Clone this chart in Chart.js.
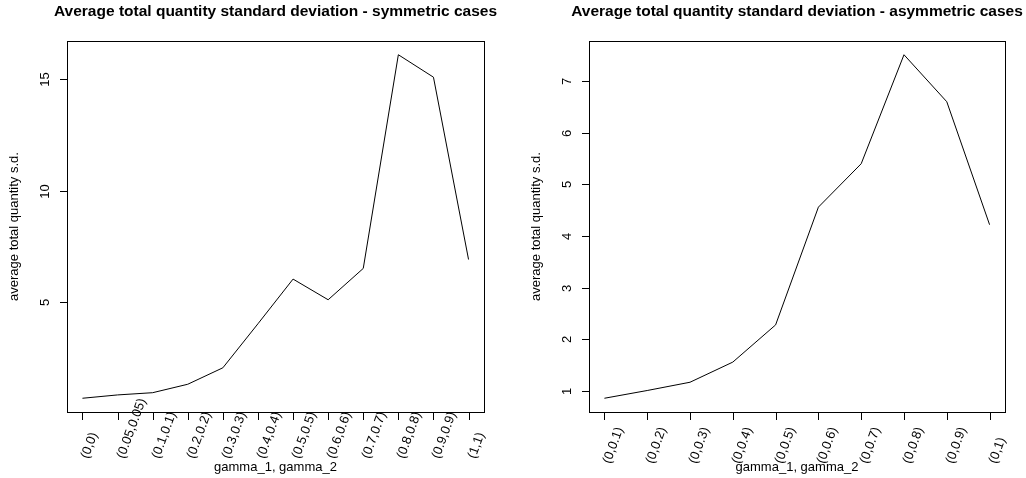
<!DOCTYPE html>
<html>
<head>
<meta charset="utf-8">
<script src="https://cdn.jsdelivr.net/npm/chart.js@4/dist/chart.umd.min.js"></script>
<style>
  html, body { margin: 0; padding: 0; background: #ffffff; }
  #wrap { position: relative; width: 1026px; height: 478px; overflow: hidden; }
  .panel { position: absolute; top: 0; width: 513px; height: 478px; }
  canvas { display: block; }
</style>
</head>
<body>
<div id="wrap">
  <div class="panel" style="left:0px"><canvas id="symChart" width="513" height="478"></canvas></div>
  <div class="panel" style="left:513px"><canvas id="asymChart" width="513" height="478"></canvas></div>
</div>
<script>
// Symmetric cases: (gamma_1, gamma_2) pairs and average total quantity s.d.
const symCategories = ['(0,0)', '(0.05,0.05)', '(0.1,0.1)', '(0.2,0.2)', '(0.3,0.3)', '(0.4,0.4)',
                       '(0.5,0.5)', '(0.6,0.6)', '(0.7,0.7)', '(0.8,0.8)', '(0.9,0.9)', '(1,1)'];
const symValues = [0.66, 0.81, 0.91, 1.29, 2.03, 4.01, 6.02, 5.09, 6.50, 16.11, 15.10, 6.90];
const symYTicks = [5, 10, 15];

// Asymmetric cases
const asymCategories = ['(0,0.1)', '(0,0.2)', '(0,0.3)', '(0,0.4)', '(0,0.5)',
                        '(0,0.6)', '(0,0.7)', '(0,0.8)', '(0,0.9)', '(0,1)'];
const asymValues = [0.86, 1.01, 1.17, 1.56, 2.28, 4.56, 5.40, 7.51, 6.60, 4.22];
const asymYTicks = [1, 2, 3, 4, 5, 6, 7];

const xTitle = 'gamma_1, gamma_2';
const yTitle = 'average total quantity s.d.';

const FONT = '"Liberation Sans", Arial, Helvetica, sans-serif';
const LABEL_ANGLE = 70 * Math.PI / 180;

// Axis range padded by 4% on each side (classic base-graphics style)
function paddedRange(lo, hi) {
  const d = (hi - lo) * 0.04;
  return [lo - d, hi + d];
}

// Draws the box, ticks, rotated labels and titles around the plot area
function makeFrame(cfg) {
  return {
    id: 'frame_' + cfg.key,
    afterDraw(chart) {
      const { ctx, chartArea: a, scales: { x, y } } = chart;
      const L = Math.round(a.left), R = Math.round(a.right);
      const T = Math.round(a.top), B = Math.round(a.bottom);
      ctx.save();
      ctx.strokeStyle = '#000';
      ctx.fillStyle = '#000';
      ctx.lineWidth = 1;
      ctx.strokeRect(L + 0.5, T + 0.5, R - L, B - T);

      // y axis ticks and labels (parallel to the axis)
      ctx.font = '13px ' + FONT;
      cfg.yTicks.forEach(v => {
        const py = Math.round(y.getPixelForValue(v)) + 0.5;
        ctx.beginPath();
        ctx.moveTo(L - 7, py);
        ctx.lineTo(L, py);
        ctx.stroke();
        ctx.save();
        ctx.translate(L - 18, py);
        ctx.rotate(-Math.PI / 2);
        ctx.textAlign = 'center';
        ctx.textBaseline = 'alphabetic';
        ctx.fillText(String(v), 0, 0);
        ctx.restore();
      });

      // x axis ticks and slanted category labels
      cfg.categories.forEach((lab, i) => {
        const px = Math.round(x.getPixelForValue(i + 1)) + 0.5;
        ctx.beginPath();
        ctx.moveTo(px, B + 1);
        ctx.lineTo(px, B + 8);
        ctx.stroke();
        ctx.save();
        ctx.translate(px + 2.5, B + cfg.labelDrop);
        ctx.rotate(-LABEL_ANGLE);
        ctx.textAlign = 'left';
        ctx.textBaseline = 'middle';
        ctx.fillText(lab, 0, 0);
        ctx.restore();
      });

      // axis titles
      ctx.textAlign = 'center';
      ctx.textBaseline = 'alphabetic';
      ctx.fillText(xTitle, (L + R) / 2, 471);
      ctx.save();
      ctx.translate(L - 49.5, (T + B) / 2);
      ctx.rotate(-Math.PI / 2);
      ctx.fillText(yTitle, 0, 0);
      ctx.restore();

      // main title
      ctx.font = 'bold 15.5px ' + FONT;
      ctx.fillText(cfg.title, (L + R) / 2, 16);
      ctx.restore();
    }
  };
}

function buildChart(canvasId, cfg) {
  const yr = paddedRange(Math.min(...cfg.values), Math.max(...cfg.values));
  const n = cfg.values.length;
  const xr = paddedRange(1, n);
  return new Chart(document.getElementById(canvasId), {
    type: 'line',
    data: {
      datasets: [{
        data: cfg.values.map((v, i) => ({ x: i + 1, y: v })),
        borderColor: '#000000',
        borderWidth: 1,
        pointRadius: 0,
        tension: 0,
        fill: false
      }]
    },
    options: {
      responsive: false,
      devicePixelRatio: 1,
      animation: false,
      events: [],
      layout: { padding: cfg.padding },
      plugins: { legend: { display: false }, tooltip: { enabled: false }, title: { display: false } },
      scales: {
        x: { type: 'linear', display: false, min: xr[0], max: xr[1] },
        y: { type: 'linear', display: false, min: yr[0], max: yr[1] }
      }
    },
    plugins: [makeFrame(cfg)]
  });
}

buildChart('symChart', {
  key: 'sym',
  title: 'Average total quantity standard deviation - symmetric cases',
  categories: symCategories,
  values: symValues,
  yTicks: symYTicks,
  labelDrop: 46,
  padding: { left: 67, right: 29, top: 41, bottom: 66 }
});

buildChart('asymChart', {
  key: 'asym',
  title: 'Average total quantity standard deviation - asymmetric cases',
  categories: asymCategories,
  values: asymValues,
  yTicks: asymYTicks,
  labelDrop: 51,
  padding: { left: 76, right: 21, top: 41, bottom: 66 }
});
</script>
</body>
</html>
